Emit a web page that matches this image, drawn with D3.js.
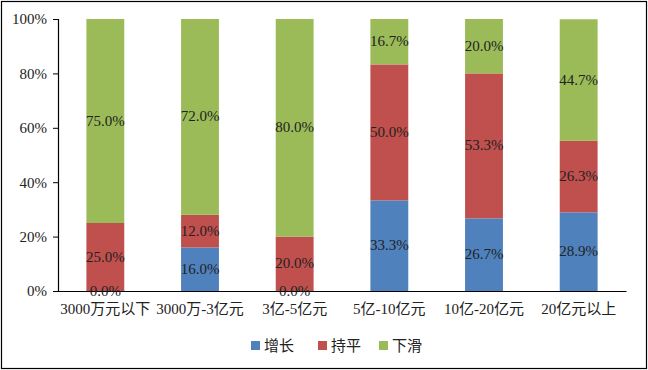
<!DOCTYPE html>
<html>
<head>
<meta charset="utf-8">
<script src="https://cdn.jsdelivr.net/npm/d3@7"></script>
<style>
  body { margin: 0; background: #fff; }
  svg { display: block; }
</style>
</head>
<body>
<svg width="648" height="370"></svg>
<script>
// categories and series (percent)
var categories = ["3000万元以下", "3000万-3亿元", "3亿-5亿元", "5亿-10亿元", "10亿-20亿元", "20亿元以上"];
var seriesNames = ["增长", "持平", "下滑"];
var growth = [0.0, 16.0, 0.0, 33.3, 26.7, 28.9];
var flat = [25.0, 12.0, 20.0, 50.0, 53.3, 26.3];
var decline = [75.0, 72.0, 80.0, 16.7, 20.0, 44.7];
var yTicks = [0, 20, 40, 60, 80, 100];
var colors = ["#4F81BD", "#C0504D", "#9BBB59"];

var svg = d3.select("svg"),
    width = +svg.attr("width"),
    height = +svg.attr("height");

var serif = "'Times New Roman', 'Liberation Serif', 'Noto Sans CJK SC', serif";
var sans = "'Microsoft YaHei', 'Noto Sans CJK SC', sans-serif";

// outer frame
svg.append("rect")
    .attr("x", 1.5).attr("y", 1.5)
    .attr("width", width - 3).attr("height", height - 3)
    .attr("fill", "#fff").attr("stroke", "#000").attr("stroke-width", 1.2);

var margin = {left: 58, right: 22, top: 19, bottom: 79};

var x = d3.scaleBand()
    .domain(categories)
    .range([margin.left, width - margin.right])
    .paddingInner(0.6).paddingOuter(0.3);

var y = d3.scaleLinear()
    .domain([0, 100])
    .range([height - margin.bottom, margin.top]);

// build stacked table from the arrays
var table = categories.map(function(c, i) {
  return {cat: c, s0: growth[i], s1: flat[i], s2: decline[i]};
});
var stack = d3.stack().keys(["s0", "s1", "s2"]);
var layers = stack(table);

var g = svg.append("g");

g.selectAll(".layer")
  .data(layers)
  .enter().append("g")
    .attr("class", "layer")
    .attr("fill", function(d, i) { return colors[i]; })
  .selectAll("rect")
  .data(function(d) { return d; })
  .enter().append("rect")
    .attr("x", function(d) { return x(d.data.cat); })
    .attr("y", function(d) { return y(d[1]); })
    .attr("width", x.bandwidth())
    .attr("height", function(d) { return y(d[0]) - y(d[1]); });

// x axis
var xAxis = svg.append("g")
    .attr("transform", "translate(0," + y(0) + ")")
    .call(d3.axisBottom(x).tickSize(0).tickPadding(12).tickSizeOuter(0));
xAxis.select(".domain").attr("stroke", "#000").attr("stroke-width", 1.2);
xAxis.selectAll("text")
    .attr("fill", "#222")
    .style("font-family", serif)
    .style("font-size", "15px");

// value labels, drawn after all bars so the 0.0% ones stay visible
var labels = svg.append("g");
labels.selectAll("g")
  .data(layers)
  .enter().append("g")
  .selectAll("text")
  .data(function(d) { return d; })
  .enter().append("text")
    .attr("x", function(d) { return x(d.data.cat) + x.bandwidth() / 2; })
    .attr("y", function(d) { return (y(d[0]) + y(d[1])) / 2; })
    .attr("dy", "0.3em")
    .attr("text-anchor", "middle")
    .attr("fill", "#222")
    .style("font-family", serif)
    .style("font-size", "15px")
    .text(function(d) { return (d[1] - d[0]).toFixed(1) + "%"; });

// y axis
var yAxis = svg.append("g")
    .attr("transform", "translate(" + margin.left + ",0)")
    .call(d3.axisLeft(y).tickValues(yTicks).tickSize(5).tickPadding(6)
      .tickFormat(function(d) { return d + "%"; }));
yAxis.select(".domain").attr("stroke", "#000").attr("stroke-width", 1.2);
yAxis.selectAll(".tick line").attr("stroke", "#000");
yAxis.selectAll("text")
    .attr("fill", "#222")
    .style("font-family", serif)
    .style("font-size", "15px");

// legend
var legendX = [251, 318, 379];
var legend = svg.append("g").selectAll("g")
  .data(seriesNames)
  .enter().append("g")
    .attr("transform", function(d, i) { return "translate(" + legendX[i] + ",341)"; });

legend.append("rect")
    .attr("width", 9).attr("height", 9)
    .attr("fill", function(d, i) { return colors[i]; });

legend.append("text")
    .attr("x", 13).attr("y", 4.5)
    .attr("dy", "0.36em")
    .attr("fill", "#222")
    .style("font-family", sans)
    .style("font-size", "15px")
    .text(function(d) { return d; });
</script>
</body>
</html>
